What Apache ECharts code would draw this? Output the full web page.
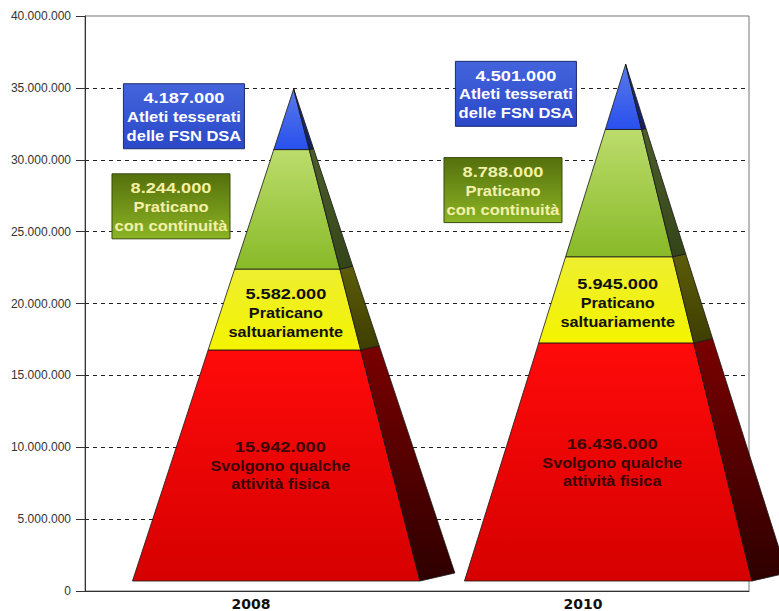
<!DOCTYPE html>
<html>
<head>
<meta charset="utf-8">
<title>Piramide della pratica sportiva</title>
<script src="https://cdn.jsdelivr.net/npm/echarts@6/dist/echarts.min.js"></script>
<style>
  html, body { margin: 0; padding: 0; background: #ffffff; }
  #chart { width: 779px; height: 611px; }
</style>
</head>
<body>
<div id="chart"></div>
<script>
// Anni (categorie dell'asse x)
const years = ['2008', '2010'];

// Livelli della piramide, dal basso verso l'alto
const attivitaFisica = [15942000, 16436000];
const saltuariamente = [5582000, 5945000];
const continuita = [8244000, 8788000];
const tesserati = [4187000, 4501000];

// Testi descrittivi di ciascun livello
const descAttivita = ['Svolgono qualche', 'attività fisica'];
const descSaltuari = ['Praticano', 'saltuariamente'];
const descContinui = ['Praticano', 'con continuità'];
const descTesserati = ['Atleti tesserati', 'delle FSN DSA'];

// Scala dell'asse y
const yMin = 0;
const yMax = 40000000;
const yStep = 5000000;

const levelValues = [attivitaFisica, saltuariamente, continuita, tesserati];
const levelTexts = [descAttivita, descSaltuari, descContinui, descTesserati];

// Aspetto di ciascun livello: facce frontali e laterali, etichette
const levelStyles = [
  { front: ['#ff0a0a', '#d60000'], side: ['#7a0000', '#2e0000'], label: 'inside', textColor: '#3a0606', offsets: [-18.5, 0.5, 18.5] },
  { front: ['#eeee30', '#f4f400'], side: ['#5c5c0a', '#3e3e00'], label: 'inside', textColor: '#111111', offsets: [-15.5, 3.5, 22] },
  { front: ['#bcdc6c', '#88ba28'], side: ['#4c5e2a', '#34441a'], label: 'box', boxFill: ['#54700c', '#8cb424'], boxStroke: '#3a4a10', textColor: '#f4f0a8', boxDx: -0.241, boxW: 118, boxH: 65 },
  { front: ['#5a7ae8', '#2850ee'], side: ['#22307e', '#141e60'], label: 'box', boxFill: ['#4464dc', '#2a48c8'], boxStroke: '#1c2c70', textColor: '#ffffff', boxDx: -0.202, boxW: 121, boxH: 65 }
];

function fmt(v) {
  return String(Math.round(v)).replace(/\B(?=(\d{3})+(?!\d))/g, '.');
}

function lerp(p, q, t) {
  return [p[0] + (q[0] - p[0]) * t, p[1] + (q[1] - p[1]) * t];
}

function vGrad(c) {
  return new echarts.graphic.LinearGradient(0, 0, 0, 1, [
    { offset: 0, color: c[0] },
    { offset: 1, color: c[1] }
  ]);
}

const FONT = '"Liberation Sans", Arial, sans-serif';

function textLine(x, y, str, color, sx) {
  return {
    type: 'text',
    x: x,
    y: y,
    scaleX: sx,
    style: {
      text: str,
      x: 0,
      y: 0,
      align: 'center',
      verticalAlign: 'middle',
      font: 'bold 14px ' + FONT,
      fill: color
    }
  };
}

// Ogni segmento è un tronco di piramide a base quadrata visto di tre quarti
function makeRenderer(k) {
  const st = levelStyles[k];
  return function (params, api) {
    const ci = api.value(0);
    const v0 = api.value(1);
    const v1 = api.value(2);
    const total = api.value(3);
    const band = api.size([1, 0])[0];
    const p0 = api.coord([ci, 0]);
    const pT = api.coord([ci, total]);
    const lift = 14;
    const FL = [p0[0] - 0.357 * band, p0[1] - lift + 4];
    const FR = [p0[0] + 0.509 * band, p0[1] - lift + 4];
    const BR = [FR[0] + 0.105 * band, FR[1] - 8];
    const A = [p0[0] + 0.1285 * band, pT[1] - lift];
    const f0 = v0 / total;
    const f1 = v1 / total;
    const lf0 = lerp(FL, A, f0), lf1 = lerp(FL, A, f1);
    const rf0 = lerp(FR, A, f0), rf1 = lerp(FR, A, f1);
    const bf0 = lerp(BR, A, f0), bf1 = lerp(BR, A, f1);

    const children = [
      {
        type: 'polygon',
        shape: { points: [lf0, rf0, rf1, lf1] },
        style: { fill: vGrad(st.front), stroke: '#161616', lineWidth: 0.8 }
      },
      {
        type: 'polygon',
        shape: { points: [rf0, bf0, bf1, rf1] },
        style: { fill: vGrad(st.side), stroke: '#161616', lineWidth: 0.8 }
      }
    ];

    const desc = levelTexts[k];
    const valueText = fmt(v1 - v0);
    const fm = (f0 + f1) / 2;
    const midY = (lf0[1] + lf1[1]) / 2;

    if (st.label === 'inside') {
      const cxm = (lerp(FL, A, fm)[0] + lerp(FR, A, fm)[0]) / 2;
      children.push(textLine(cxm, midY + st.offsets[0], valueText, st.textColor, 1.3));
      children.push(textLine(cxm, midY + st.offsets[1], desc[0], st.textColor, 1.16));
      children.push(textLine(cxm, midY + st.offsets[2], desc[1], st.textColor, 1.16));
    } else {
      const bx = p0[0] + st.boxDx * band;
      const by = midY - 3;
      children.push({
        type: 'rect',
        shape: { x: bx - st.boxW / 2, y: by - st.boxH / 2, width: st.boxW, height: st.boxH },
        style: { fill: vGrad(st.boxFill), stroke: st.boxStroke, lineWidth: 1 }
      });
      children.push(textLine(bx, by - 18.5, valueText, st.textColor, 1.3));
      children.push(textLine(bx, by + 0.5, desc[0], st.textColor, 1.18));
      children.push(textLine(bx, by + 19.5, desc[1], st.textColor, 1.18));
    }

    return { type: 'group', children: children };
  };
}

// Dati dei segmenti: [indice anno, inizio cumulato, fine cumulata, totale]
const totals = years.map((_, i) => levelValues.reduce((s, arr) => s + arr[i], 0));
const series = levelValues.map((arr, k) => ({
  type: 'custom',
  name: levelTexts[k].join(' '),
  clip: false,
  renderItem: makeRenderer(k),
  encode: { x: 0, y: [1, 2] },
  data: years.map((_, i) => {
    let start = 0;
    for (let j = 0; j < k; j++) start += levelValues[j][i];
    return [i, start, start + arr[i], totals[i]];
  })
}));

const chart = echarts.init(document.getElementById('chart'), null, { renderer: 'svg' });

chart.setOption({
  animation: false,
  backgroundColor: '#ffffff',
  grid: {
    left: 85,
    right: 30,
    top: 16,
    bottom: 18,
    show: true,
    borderColor: '#777777',
    borderWidth: 1,
    backgroundColor: 'transparent'
  },
  xAxis: {
    type: 'category',
    data: years,
    axisLine: { show: true, lineStyle: { color: '#333333', width: 1 } },
    axisTick: { show: false },
    axisLabel: {
      margin: 6,
      color: '#111111',
      fontFamily: '"DejaVu Sans", sans-serif',
      fontWeight: 'bold',
      fontSize: 14
    },
    splitLine: { show: false }
  },
  yAxis: {
    type: 'value',
    min: yMin,
    max: yMax,
    interval: yStep,
    axisLine: { show: true, lineStyle: { color: '#333333', width: 1 } },
    axisTick: { show: true, length: 9, lineStyle: { color: '#333333' } },
    axisLabel: {
      margin: 14,
      color: '#333333',
      fontFamily: FONT,
      fontSize: 12,
      formatter: (v) => fmt(v)
    },
    splitLine: {
      show: true,
      showMinLine: false,
      showMaxLine: false,
      lineStyle: { color: '#222222', type: [4, 4], width: 1 }
    }
  },
  series: series
});
</script>
</body>
</html>
